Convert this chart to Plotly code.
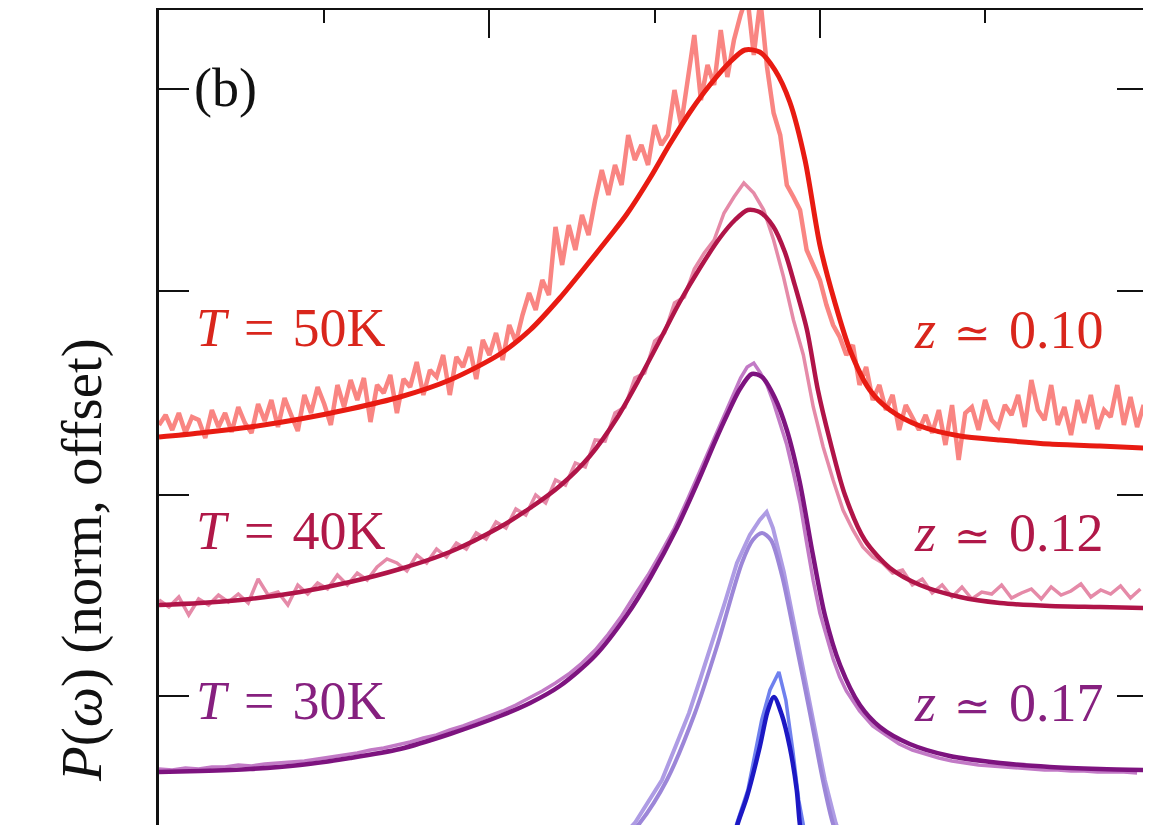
import plotly.graph_objects as go

# ---------------- data (x: frequency, arbitrary units; y: normalised P(w) with offset) ----------
x_fit50 = [0, 12.4, 27.5, 42.7, 57.8, 72.9, 88.0, 103.2, 112.3, 121.3, 129.5, 136.5, 141.6, 148.6,
           154.6, 160.7, 166.7, 172.8, 177.3, 181.8, 186.4, 190.9, 195.5, 200.0, 204.5, 209.1,
           215.1, 221.2, 230.3, 242.4, 254.5, 269.6, 284.7, 298.6]
y_fit50 = [388, 392, 398, 406, 416, 428, 445, 471, 495, 527, 560, 589, 611, 647,
           681, 713, 740, 763, 775, 773, 755, 723, 665, 580, 523, 475,
           435, 415, 399, 389, 385, 381, 379, 377]

x_dat50 = [0, 2, 4, 6, 8, 10, 12, 14, 16, 18, 20, 22, 24, 26, 28, 30, 32, 34, 36, 38,
           40, 42, 44, 46, 48, 50, 52, 54, 56, 58, 60, 62, 64, 66, 68, 70, 72, 74, 76, 78,
           80, 82, 84, 86, 88, 90, 92, 94, 96, 98, 100, 102, 104, 106, 108, 110, 112, 114, 116, 118,
           120, 122, 124, 126, 128, 130, 132, 134, 136, 138, 140, 142, 144, 146, 148, 150, 152, 154, 156, 158,
           160, 162, 164, 166, 168, 170, 172, 174, 176, 178, 180, 182, 184, 186, 188, 190, 192, 194, 196, 198,
           200, 202, 204, 206, 208, 210, 212, 214, 216, 218, 220, 222, 224, 226, 228, 230, 232, 234, 236, 238,
           240, 242, 244, 246, 248, 250, 252, 254, 256, 258, 260, 262, 264, 266, 268, 270, 272, 274, 276, 278,
           280, 282, 284, 286, 288, 290, 292, 294, 296, 298]
y_dat50 = [400, 410, 395, 412, 392, 408, 405, 387, 415, 398, 412, 393, 418, 402, 392, 421, 404, 425, 398, 427,
           410, 394, 430, 412, 438, 421, 400, 440, 418, 445, 425, 447, 403, 440, 432, 450, 412, 446, 438, 463,
           430, 455, 448, 470, 430, 468, 458, 478, 446, 485, 470, 492, 465, 500, 483, 510, 532, 515, 545, 530,
           598, 560, 600, 575, 610, 590, 625, 655, 630, 660, 640, 690, 665, 680, 660, 700, 680, 690, 735, 700,
           745, 790, 725, 760, 740, 795, 748, 785, 810, 830, 770, 825, 758, 712, 690, 640, 628, 615, 575, 560,
           545, 520, 500, 488, 470, 480, 440, 458, 425, 440, 415, 430, 395, 420, 408, 395, 410, 392, 415, 380,
           420, 365, 412, 418, 395, 425, 405, 398, 420, 410, 430, 398, 445, 415, 405, 440, 400, 418, 390, 425,
           402, 430, 396, 415, 408, 440, 400, 428, 398, 420]

x_fit40 = [0, 12.4, 27.5, 42.7, 57.8, 72.9, 88.0, 103.2, 112.3, 121.3, 130.4, 138.6, 145.5, 151.6,
           157.6, 163.7, 169.7, 174.3, 178.2, 181.8, 185.8, 189.4, 192.4, 196.1, 199.4, 203.0,
           207.6, 213.6, 221.2, 230.3, 242.4, 254.5, 269.6, 284.7, 298.6]
y_fit40 = [220, 222, 226, 233, 243, 256, 273, 298, 317, 339, 369, 407, 447, 485,
           523, 557, 587, 605, 615, 613, 599, 573, 540, 495, 435, 385,
           330, 285, 257, 240, 228, 222, 219, 218, 217]

x_dat40 = [0, 3, 6, 9, 12, 15, 18, 21, 24, 27, 30, 33, 36, 39, 42, 45, 48, 51, 54, 57,
           60, 63, 66, 69, 72, 75, 78, 81, 84, 87, 90, 93, 96, 99, 102, 105, 108, 111, 114, 117,
           120, 123, 126, 129, 132, 135, 138, 141, 144, 147, 150, 153, 156, 159, 162, 165, 168, 171, 174, 177,
           180, 183, 186, 189, 192, 195, 198, 201, 204, 207, 210, 213, 216, 219, 222, 225, 228, 231, 234, 237,
           240, 243, 246, 249, 252, 255, 258, 261, 264, 267, 270, 273, 276, 279, 282, 285, 288, 291, 294, 297]
y_dat40 = [225, 218, 228, 210, 226, 220, 230, 223, 231, 222, 246, 230, 233, 220, 240, 231, 242, 236, 250, 240,
           252, 245, 258, 266, 262, 254, 270, 262, 276, 268, 282, 276, 292, 286, 303, 297, 316, 310, 330, 322,
           345, 340, 362, 358, 385, 384, 412, 418, 447, 452, 484, 492, 522, 528, 556, 572, 585, 612, 628, 642,
           632, 615, 585, 548, 505, 470, 418, 378, 345, 315, 295, 278, 268, 262, 252, 255, 240, 246, 232, 240,
           228, 238, 226, 233, 231, 240, 227, 232, 236, 226, 238, 230, 234, 241, 228, 235, 231, 239, 227, 236]

x_fit30 = [0, 12.4, 27.5, 42.7, 57.8, 72.9, 88.0, 103.2, 112.3, 121.3, 131.9, 141.6, 148.6, 156.7,
           163.7, 168.2, 171.9, 175.8, 179.4, 182.5, 186.4, 190.0, 193.9, 197.9, 201.5, 206.1,
           212.1, 218.2, 227.2, 239.3, 254.5, 269.6, 284.7, 298.6]
y_fit30 = [53, 54, 56, 60, 67, 76, 91, 109, 122, 139, 169, 210, 247, 297,
           348, 383, 410, 436, 451, 448, 427, 395, 343, 270, 210, 160,
           120, 98, 81, 69, 62, 58, 56, 55]

x_dat30 = [0, 4, 8, 12, 16, 20, 24, 28, 32, 36, 40, 44, 48, 52, 56, 60, 64, 68, 72, 76,
           80, 84, 88, 92, 96, 100, 104, 108, 112, 116, 120, 124, 128, 132, 136, 140, 144, 148, 152, 156,
           160, 164, 168, 172, 176, 178, 180, 182, 184, 186, 188, 190, 192, 194, 196, 198, 200, 202, 204, 206,
           208, 212, 216, 220, 224, 228, 232, 236, 240, 244, 248, 252, 256, 260, 264, 268, 272, 276, 280, 284,
           288, 292, 296]
y_dat30 = [56, 55, 57, 56, 58, 58, 60, 59, 61, 62, 63, 64, 66, 68, 70, 72, 75, 77, 80, 83,
           87, 90, 95, 99, 104, 109, 114, 120, 127, 134, 142, 151, 162, 175, 191, 209, 230, 250, 273, 297,
           326, 356, 388, 418, 447, 458, 462, 452, 440, 422, 402, 380, 352, 322, 282, 244, 212, 188, 166, 148,
           134, 114, 99, 90, 81, 75, 71, 67, 64, 62, 60, 59, 58, 57, 56, 55, 55, 54, 54, 53,
           53, 53, 52]

x_fit20 = [121.3, 133.4, 145.5, 153.7, 162.2, 168.8, 176.4, 179.7, 182.5, 185.2, 188.5, 193.0,
           197.0, 200.9, 203.9, 209.1, 218.2]
y_fit20 = [-80, -40, 2, 45, 112, 178, 262, 285, 292, 285, 250, 178,
           112, 45, 2, -45, -85]

x_dat20 = [119.8, 131.9, 144.0, 152.2, 156.5, 160.4, 164.0, 167.0, 171.2, 174.9, 178.8, 181.8, 183.9,
           185.8, 189.1, 193.6, 197.6, 201.5, 204.8, 210.0, 219.1]
y_dat20 = [-80, -40, 2, 45, 80, 112, 148, 178, 222, 262, 290, 305, 313,
           297, 253, 178, 112, 45, 2, -45, -85]

x_fit10 = [171.3, 175.2, 177.9, 181.8, 184.2, 186.1, 188.5, 190.9, 193.0, 193.9, 195.8]
y_fit10 = [-45, 2, 28, 78, 114, 128, 110, 78, 35, 2, -45]

x_dat10 = [171.0, 174.9, 178.2, 182.4, 184.9, 187.6, 189.7, 191.8, 193.6, 194.9, 197.0]
y_dat10 = [-45, 2, 35, 105, 135, 153, 125, 75, 25, 2, -45]

temps = ["50K", "40K", "30K"]
zvals = ["0.10", "0.12", "0.17"]
label_y = [497, 294, 124]
zlabel_y = [495, 292, 122]

# ---------------- styles ----------------
fit_colors = {"50": "#e81b12", "40": "#b01448", "30": "#7d137f", "20": "#9c86d8", "10": "#1c18c4"}
dat_colors = {"50": "#f98582", "40": "#e58aa8", "30": "#c27ac6", "20": "#ae9ce4", "10": "#6f80ee"}
label_colors = ["#d9261c", "#b01848", "#86207f"]
SERIF = "Liberation Serif"
SIM = '<span style="font-family:DejaVu Serif;font-size:44px">\u2243</span>'

fig = go.Figure()

def add(x, y, color, width, spline):
    fig.add_trace(go.Scatter(
        x=x, y=y, mode="lines",
        line=dict(color=color, width=width, shape="spline" if spline else "linear",
                  smoothing=0.8 if spline else 0),
        hoverinfo="skip", showlegend=False))

add(x_dat10, y_dat10, dat_colors["10"], 3.5, False)
add(x_fit10, y_fit10, fit_colors["10"], 4.5, True)
add(x_dat20, y_dat20, dat_colors["20"], 4, False)
add(x_fit20, y_fit20, fit_colors["20"], 4, True)
add(x_dat30, y_dat30, dat_colors["30"], 3.5, False)
add(x_fit30, y_fit30, fit_colors["30"], 4.5, True)
add(x_dat40, y_dat40, dat_colors["40"], 3.5, False)
add(x_fit40, y_fit40, fit_colors["40"], 4.5, True)
add(x_dat50, y_dat50, dat_colors["50"], 4.5, False)
add(x_fit50, y_fit50, fit_colors["50"], 5, True)

annotations = []
for t, z, ly, zy, c in zip(temps, zvals, label_y, zlabel_y, label_colors):
    annotations.append(dict(x=10.7, y=ly, xref="x", yref="y", xanchor="left", yanchor="middle",
                            text="<i>T</i>\u2004=\u2004" + t, showarrow=False,
                            font=dict(family=SERIF, size=54, color=c)))
    annotations.append(dict(x=286.2, y=zy, xref="x", yref="y", xanchor="right", yanchor="middle",
                            text="<i>z</i>\u2004" + SIM + "\u2004" + z, showarrow=False,
                            font=dict(family=SERIF, size=54, color=c)))
annotations.append(dict(x=10.0, y=737, xref="x", yref="y", xanchor="left", yanchor="middle",
                        text="(b)", showarrow=False,
                        font=dict(family=SERIF, size=54, color="#111111")))
annotations.append(dict(x=-0.078, y=0.325, xref="paper", yref="paper", xanchor="center",
                        yanchor="middle", textangle=-90,
                        text="<i>P</i>(<i>\u03c9</i>) (norm, offset)", showarrow=False,
                        font=dict(family=SERIF, size=57, color="#111111")))

# the page body has an 8px default margin, so the figure is sized to fit the window exactly
fig.update_layout(
    width=1143, height=817,
    margin=dict(l=151, r=4, t=2, b=0),
    font=dict(family=SERIF),
    paper_bgcolor="white", plot_bgcolor="white",
    annotations=annotations,
    xaxis=dict(range=[0, 299], side="top", showline=True, linecolor="#111111", linewidth=2,
               mirror=False, showgrid=False, zeroline=False, showticklabels=False,
               ticks="inside", tickvals=[100, 200], ticklen=28, tickwidth=2, tickcolor="#111111",
               minor=dict(tickvals=[50, 150, 250], ticks="inside", ticklen=13, tickwidth=2,
                          tickcolor="#111111")),
    yaxis=dict(range=[0, 815], showline=True, linecolor="#111111", linewidth=3, mirror="ticks",
               showgrid=False, zeroline=False, showticklabels=False,
               ticks="inside", tickvals=[129, 330, 534, 736], ticklen=30, tickwidth=2,
               tickcolor="#111111"),
)

fig.write_html("out.html")
